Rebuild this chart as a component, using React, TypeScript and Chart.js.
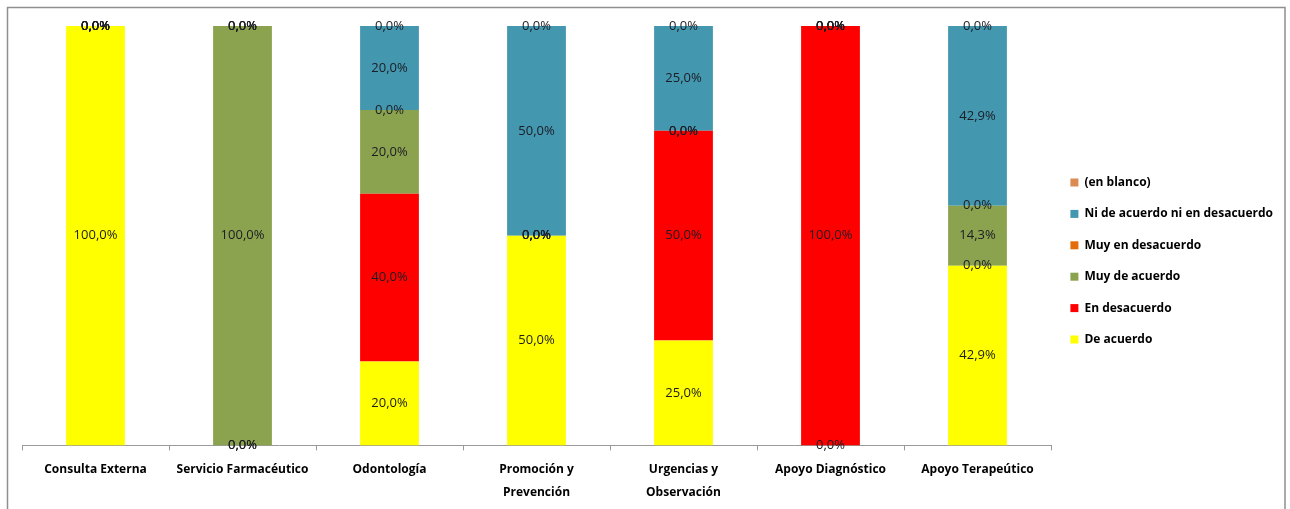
import React, { useEffect, useRef } from "react";
import { Chart, registerables } from "chart.js";

Chart.register(...registerables);

const categories: (string | string[])[] = [
  "Consulta Externa",
  "Servicio Farmacéutico",
  "Odontología",
  ["Promoción y", "Prevención"],
  ["Urgencias y", "Observación"],
  "Apoyo Diagnóstico",
  "Apoyo Terapeútico",
];

// Percentages per category (stack order bottom → top)
const deAcuerdo = [100, 0, 20, 50, 25, 0, 42.86];
const enDesacuerdo = [0, 0, 40, 0, 50, 100, 0];
const muyDeAcuerdo = [0, 100, 20, 0, 0, 0, 14.28];
const muyEnDesacuerdo = [0, 0, 0, 0, 0, 0, 0];
const niDeAcuerdoNiEnDesacuerdo = [0, 0, 20, 50, 25, 0, 42.86];
const enBlanco = [0, 0, 0, 0, 0, 0, 0];

const seriesNames = [
  "De acuerdo",
  "En desacuerdo",
  "Muy de acuerdo",
  "Muy en desacuerdo",
  "Ni de acuerdo ni en desacuerdo",
  "(en blanco)",
];
const seriesValues = [
  deAcuerdo,
  enDesacuerdo,
  muyDeAcuerdo,
  muyEnDesacuerdo,
  niDeAcuerdoNiEnDesacuerdo,
  enBlanco,
];
const seriesColors = ["#FFFF00", "#FF0000", "#8BA34E", "#E46C0A", "#4397AF", "#DB8A52"];

const fmt = (v: number) => v.toFixed(1).replace(".", ",") + "%";

const framePlugin = {
  id: "frame",
  beforeDraw(chart: any) {
    const { ctx, width, height } = chart;
    ctx.save();
    ctx.fillStyle = "#ffffff";
    ctx.fillRect(0, 0, width, height);
    ctx.strokeStyle = "#8f8f8f";
    ctx.lineWidth = 1.5;
    ctx.beginPath();
    ctx.moveTo(7.5, height + 5);
    ctx.lineTo(7.5, 7.5);
    ctx.lineTo(width - 5, 7.5);
    ctx.lineTo(width - 5, height + 5);
    ctx.stroke();
    ctx.restore();
  },
};

const legendShiftPlugin = {
  id: "legendShift",
  afterLayout(chart: any) {
    const lg = chart.legend;
    if (lg) {
      lg.top -= 8;
      lg.bottom -= 8;
    }
  },
};

const valueLabelPlugin = {
  id: "valueLabels",
  afterDatasetsDraw(chart: any) {
    const { ctx } = chart;
    ctx.save();
    ctx.font = '13px "Open Sans"';
    ctx.fillStyle = "#1c1c24";
    ctx.textAlign = "center";
    ctx.textBaseline = "middle";
    chart.data.datasets.forEach((ds: any, i: number) => {
      const meta = chart.getDatasetMeta(i);
      meta.data.forEach((el: any, j: number) => {
        const v = ds.data[j] as number;
        const p = el.getProps(["x", "y", "base"], true);
        ctx.fillText(fmt(v), p.x, (p.y + p.base) / 2);
      });
    });
    ctx.restore();
  },
};

export default function App() {
  const canvasRef = useRef<HTMLCanvasElement | null>(null);

  useEffect(() => {
    const canvas = canvasRef.current;
    if (!canvas) return;
    const chart = new Chart(canvas, {
      type: "bar",
      data: {
        labels: categories,
        datasets: seriesNames.map((name, i) => ({
          label: name,
          data: seriesValues[i],
          backgroundColor: seriesColors[i],
          borderWidth: 0,
          categoryPercentage: 1,
          barPercentage: 0.4,
        })),
      },
      options: {
        animation: false,
        responsive: false,
        maintainAspectRatio: false,
        layout: { padding: { left: 22, top: 26, right: 7, bottom: -3 } },
        scales: {
          x: {
            stacked: true,
            grid: {
              display: true,
              drawOnChartArea: false,
              drawTicks: true,
              tickLength: 5,
              offset: true,
              color: "#9a9a9a",
            },
            border: { display: true, color: "#9a9a9a", width: 1 },
            ticks: {
              color: "#000000",
              padding: 8,
              maxRotation: 0,
              autoSkip: false,
              font: { family: "Open Sans", weight: "bold", size: 12, lineHeight: 1.9 },
            },
          },
          y: {
            stacked: true,
            min: 0,
            max: 100,
            display: false,
          },
        },
        plugins: {
          legend: {
            position: "right",
            reverse: true,
            labels: {
              boxWidth: 8,
              boxHeight: 8,
              padding: 19.4,
              color: "#000000",
              font: { family: "Open Sans", weight: "bold", size: 12 },
            },
          },
          tooltip: { enabled: false },
        },
      },
      plugins: [framePlugin, legendShiftPlugin, valueLabelPlugin],
    } as any);
    return () => chart.destroy();
  }, []);

  return (
    <div style={{ position: "fixed", left: 0, top: 0, width: 1290, height: 509, background: "#fff" }}>
      <canvas ref={canvasRef} width={1290} height={509} style={{ display: "block" }} />
    </div>
  );
}
